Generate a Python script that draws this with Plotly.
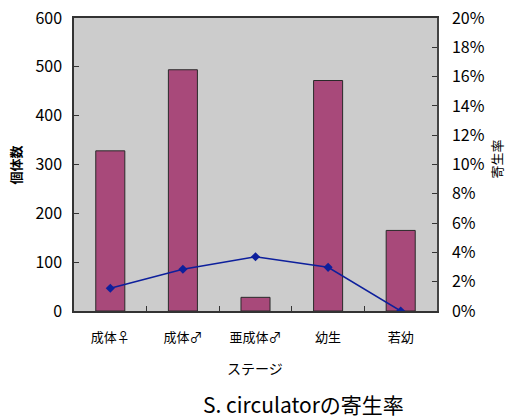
import plotly.graph_objects as go

categories = ["成体♀", "成体♂", "亜成体♂", "幼生", "若幼"]
counts = [328, 494, 28, 472, 165]
rates = [0.0155, 0.0285, 0.037, 0.0298, 0.0]

FONT = "Noto Sans CJK JP"

fig = go.Figure()
fig.add_trace(go.Bar(
    x=categories, y=counts, width=0.4,
    marker=dict(color="#a8497a", line=dict(color="#2a2a2a", width=1)),
    yaxis="y", showlegend=False,
))
fig.add_trace(go.Scatter(
    x=categories, y=rates, mode="lines+markers",
    line=dict(color="#0d1f9c", width=1.5),
    marker=dict(symbol="diamond", size=7, color="#0d1f9c"),
    yaxis="y2", showlegend=False,
))

fig.update_layout(
    width=506, height=420,
    margin=dict(l=74, r=69, t=18, b=109, autoexpand=False),
    paper_bgcolor="white", plot_bgcolor="#cccccc",
    font=dict(family=FONT, color="black", size=13),
    xaxis=dict(
        type="category", tickson="boundaries", ticks="inside", ticklen=5,
        tickcolor="#333", showline=True, linecolor="#333", linewidth=1.5,
        mirror=True, showgrid=False, tickfont=dict(size=13),
        automargin=False, ticklabelstandoff=14,
    ),
    yaxis=dict(
        range=[0, 600], dtick=100, ticks="inside", ticklen=5, tickcolor="#333",
        showline=True, linecolor="#333", linewidth=1.5, showgrid=False,
        zeroline=False, tickfont=dict(size=16), automargin=False,
        ticklabeloverflow="allow", ticklabelstandoff=7,
    ),
    yaxis2=dict(
        range=[0, 0.2], dtick=0.02, tickformat=".0%", overlaying="y", side="right",
        ticks="inside", ticklen=5, tickcolor="#333", showline=True,
        linecolor="#444", linewidth=1.5, showgrid=False, zeroline=False,
        tickfont=dict(size=16), automargin=False,
        ticklabeloverflow="allow", ticklabelstandoff=10,
    ),
    annotations=[
        dict(text="ステージ", xref="paper", yref="paper", x=0.499, y=-0.195,
             showarrow=False, font=dict(size=14), xanchor="center", yanchor="middle"),
        dict(text="<b>個体数</b>", xref="paper", yref="paper", x=-0.16, y=0.50,
             showarrow=False, font=dict(size=13), textangle=-90,
             xanchor="center", yanchor="middle"),
        dict(text="寄生率", xref="paper", yref="paper", x=1.165, y=0.52,
             showarrow=False, font=dict(size=13, color="black"), textangle=-90,
             xanchor="center", yanchor="middle"),
        dict(text="S. circulatorの寄生率", xref="paper", yref="paper", x=0.631, y=-0.317,
             showarrow=False, font=dict(size=21), xanchor="center", yanchor="middle"),
    ],
)

fig.write_html("out.html", config={"displayModeBar": False},
               post_script="document.body.style.margin='0px';")
